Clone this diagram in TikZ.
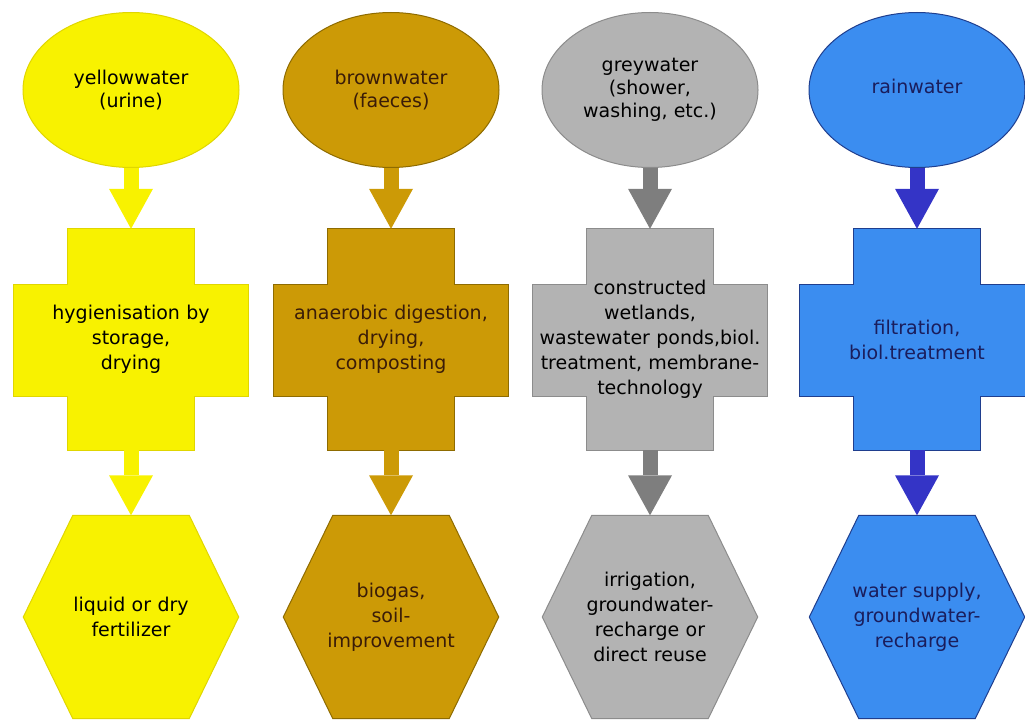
\documentclass[tikz,border=0pt]{standalone}
\usepackage{fontspec}
\setmainfont{DejaVu Sans}
\usetikzlibrary{shapes.geometric,arrows.meta,backgrounds}

\definecolor{giallo}{HTML}{F8F200}
\definecolor{giallobordo}{HTML}{E0D600}
\definecolor{marrone}{HTML}{CC9A06}
\definecolor{marronebordo}{HTML}{8E6B00}
\definecolor{marronetesto}{HTML}{3A1C08}
\definecolor{grigio}{HTML}{B3B3B3}
\definecolor{grigiobordo}{HTML}{8C8C8C}
\definecolor{grigiofreccia}{HTML}{7E7E7E}
\definecolor{blu}{HTML}{3B8DF0}
\definecolor{blubordo}{HTML}{1F3E8E}
\definecolor{blufreccia}{HTML}{3434C6}
\definecolor{blutesto}{HTML}{1A1D5C}

\tikzset{
  sorgente/.style={ellipse, minimum width=216pt, minimum height=155pt, inner sep=2pt,
    align=center, font=\fontsize{19}{23}\selectfont},
  processo/.style={rectangle, text width=226pt, inner sep=4pt, minimum height=221pt,
    align=center, font=\fontsize{19}{25}\selectfont},
  riuso/.style={rectangle, text width=207pt, inner sep=4pt, minimum height=203pt,
    align=center, font=\fontsize{19}{25}\selectfont},
  flusso/.style={line width=15pt, -{Triangle[width=44pt,length=40pt,line width=0pt]}},
  colgiallo/.style={fill=giallo, draw=giallobordo, line width=1pt},
  colmarrone/.style={fill=marrone, draw=marronebordo, line width=1pt},
  colgrigio/.style={fill=grigio, draw=grigiobordo, line width=1pt},
  colblu/.style={fill=blu, draw=blubordo, line width=1pt}
}

% croce dietro il nodo (barra verticale + bracci)
\newcommand{\croce}[2]{%
  \begin{scope}[on background layer]
    \draw[#2] ([xshift=53.5pt]#1.north west) -- ([xshift=-53.5pt]#1.north east)
      -- ([xshift=-53.5pt,yshift=-56pt]#1.north east) -- ([yshift=-56pt]#1.north east)
      -- ([yshift=54pt]#1.south east) -- ([xshift=-53.5pt,yshift=54pt]#1.south east)
      -- ([xshift=-53.5pt]#1.south east) -- ([xshift=53.5pt]#1.south west)
      -- ([xshift=53.5pt,yshift=54pt]#1.south west) -- ([yshift=54pt]#1.south west)
      -- ([yshift=-56pt]#1.north west) -- ([xshift=53.5pt,yshift=-56pt]#1.north west) -- cycle;
  \end{scope}}

% esagono dietro il nodo
\newcommand{\esagono}[2]{%
  \begin{scope}[on background layer]
    \draw[#2] (#1.west) -- ([xshift=49.5pt]#1.north west) -- ([xshift=-49.5pt]#1.north east)
      -- (#1.east) -- ([xshift=-49.5pt]#1.south east) -- ([xshift=49.5pt]#1.south west) -- cycle;
  \end{scope}}

\begin{document}
\begin{tikzpicture}[x=1pt,y=-1pt]
    \useasboundingbox (0,0) rectangle (1025,722);

    % Colonna 1: acque gialle
    \node[sorgente, colgiallo] (urina) at (131,90) {yellowwater\\(urine)};
    \node[processo] (igiene) at (131,339.5) {hygienisation by\\storage,\\drying};
    \node[riuso] (fertil) at (131,617) {liquid or dry\\fertilizer};
    \croce{igiene}{colgiallo}
    \esagono{fertil}{colgiallo}
    \draw[flusso, giallo] (urina.south) -- (igiene.north);
    \draw[flusso, giallo] (igiene.south) -- (fertil.north);

    % Colonna 2: acque brune
    \node[sorgente, colmarrone, text=marronetesto] (feci) at (391,90) {brownwater\\(faeces)};
    \node[processo, text=marronetesto] (digest) at (391,339.5) {anaerobic digestion,\\drying,\\composting};
    \node[riuso, text=marronetesto] (biogas) at (391,617) {biogas,\\soil-\\improvement};
    \croce{digest}{colmarrone}
    \esagono{biogas}{colmarrone}
    \draw[flusso, marrone] (feci.south) -- (digest.north);
    \draw[flusso, marrone] (digest.south) -- (biogas.north);

    % Colonna 3: acque grigie
    \node[sorgente, colgrigio] (doccia) at (650,90) {greywater\\(shower,\\washing, etc.)};
    \node[processo] (zone) at (650,339.5) {constructed\\wetlands,\\wastewater ponds,biol.\\treatment, membrane-\\technology};
    \node[riuso] (irrig) at (650,617) {irrigation,\\groundwater-\\recharge or\\direct reuse};
    \croce{zone}{colgrigio}
    \esagono{irrig}{colgrigio}
    \draw[flusso, grigiofreccia] (doccia.south) -- (zone.north);
    \draw[flusso, grigiofreccia] (zone.south) -- (irrig.north);

    % Colonna 4: acque piovane
    \node[sorgente, colblu, text=blutesto] (pioggia) at (917,90) {\raisebox{8pt}{rainwater}};
    \node[processo, text=blutesto] (filtro) at (917,339.5) {filtration,\\biol.treatment};
    \node[riuso, text=blutesto] (fornit) at (917,617) {water supply,\\groundwater-\\recharge};
    \croce{filtro}{colblu}
    \esagono{fornit}{colblu}
    \draw[flusso, blufreccia] (pioggia.south) -- (filtro.north);
    \draw[flusso, blufreccia] (filtro.south) -- (fornit.north);
\end{tikzpicture}
\end{document}
